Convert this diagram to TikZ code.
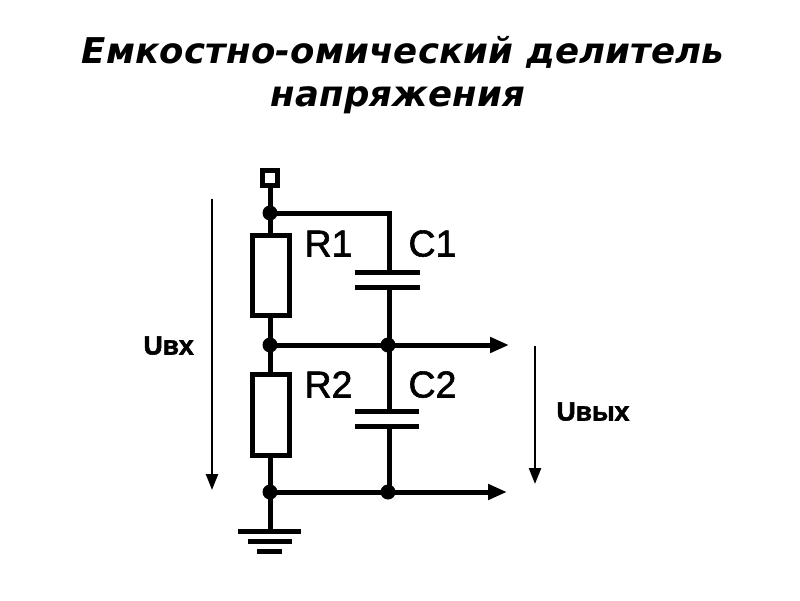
\documentclass[tikz,border=0pt]{standalone}
\usepackage{fontspec}
\usetikzlibrary{arrows.meta}
\setmainfont{Liberation Sans}
\newfontfamily\titlefont[LetterSpace=0.5]{DejaVu Sans}
\newfontfamily\partfont[FakeBold=1.5]{Liberation Sans}
\newfontfamily\voltfont[FakeBold=2]{Liberation Sans}
\tikzset{
  conn/.style={draw=black,line width=5pt},
  thin arrow/.style={draw=black,line width=2.4pt,-{Triangle[length=16pt,width=12pt]}},
  out arrow/.style={draw=black,line width=5pt,-{Triangle[length=19pt,width=15pt]}},
  junction/.style={circle,fill=black,inner sep=0pt,minimum size=15pt},
  terminal/.style={draw,line width=5.2pt,fill=white,inner sep=0pt,minimum size=14.5pt},
  resistor/.style={draw,line width=4.8pt,fill=white,inner sep=0pt,minimum width=37.5pt,minimum height=80.5pt},
  plate/.style={line width=5pt},
  ground/.style={line width=5pt},
  titletext/.style={font=\titlefont\bfseries\itshape\fontsize{35.5}{40}\selectfont,anchor=base},
  part/.style={font=\partfont\fontsize{37.5}{40}\selectfont,anchor=base west},
  volt/.style={font=\voltfont\bfseries\fontsize{26.5}{30}\selectfont,anchor=base west}
}
\begin{document}
\begin{tikzpicture}[x=1pt,y=-1pt]
\useasboundingbox (0,0) rectangle (800,600);
\node[titletext] (t1) at (403,63.5) {Емкостно-омический делитель};
\node[titletext] (t2) at (398,106) {напряжения};

\coordinate (top) at (389,213);
\coordinate (c1a) at (389,272);
\coordinate (c1b) at (389,287);
\coordinate (c2a) at (389,411);
\coordinate (c2b) at (389,426);
\coordinate (g1) at (270,531);
\coordinate (o1) at (509,345);
\coordinate (o2) at (507,492);
\coordinate (a1) at (212,199);
\coordinate (a2) at (212,490);
\coordinate (b1) at (535,346);
\coordinate (b2) at (535,484);
\coordinate (w1) at (270,178);
\coordinate (w2) at (270,213);
\coordinate (w3) at (270,345);
\coordinate (w4) at (270,492);
\coordinate (w5) at (389,345);
\coordinate (w6) at (389,492);

\draw[conn] (w1) -- (g1);
\draw[conn,line cap=rect] (w2) -- (top) -- (c1a);
\draw[conn] (c1b) -- (c2a);
\draw[conn] (c2b) -- (w6);
\draw[out arrow] (w3) -- (o1);
\draw[out arrow] (w4) -- (o2);

\node[terminal] (in) at (270,178) {};
\node[junction] (j1) at (270,213) {};
\node[resistor] (r1) at (271,275.5) {};
\node[junction] (j2) at (270,345) {};
\node[resistor] (r2) at (271,415) {};
\node[junction] (j3) at (270,492) {};
\node[junction] (j4) at (388,345) {};
\node[junction] (j5) at (388,492) {};

\draw[plate] (355,272) -- (420,272);
\draw[plate] (355,287) -- (420,287);
\draw[plate] (355,411) -- (419,411);
\draw[plate] (355,426) -- (419,426);

\draw[ground] (238,531) -- (301,531);
\draw[ground] (248,541) -- (292,541);
\draw[ground] (257,551) -- (282,551);

\draw[thin arrow] (a1) -- (a2);
\draw[thin arrow] (b1) -- (b2);

\node[part] (lr1) at (301,256.5) {R1};
\node[part] (lc1) at (405,256.5) {C1};
\node[part] (lr2) at (301,397.5) {R2};
\node[part] (lc2) at (405,397.5) {C2};
\node[volt] (lu1) at (140,354.5) {Uвх};
\node[volt] (lu2) at (553,420.5) {Uвых};
\end{tikzpicture}
\end{document}
